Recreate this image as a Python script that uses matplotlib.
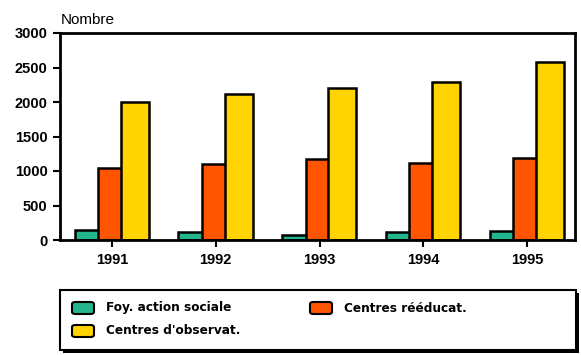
import matplotlib.pyplot as plt
from matplotlib.patches import Rectangle, FancyBboxPatch
import numpy as np

years = ["1991", "1992", "1993", "1994", "1995"]
foyers = [140, 110, 70, 110, 130]
reeducat = [1040, 1100, 1170, 1110, 1185]
observat = [2000, 2115, 2200, 2285, 2580]
labels = ["Foy. action sociale", "Centres rééducat.", "Centres d'observat."]
colors = ["#23b58d", "#ff5500", "#ffd400"]

plt.rcParams['font.family'] = ['Liberation Sans', 'DejaVu Sans']

fig = plt.figure(figsize=(5.81, 3.55), dpi=100)
ax = fig.add_axes([60/581, 1-240/355, 515/581, 207/355])

x = np.arange(len(years))
w = 0.27
series = [foyers, reeducat, observat]
offsets = [-0.225, 0.0, 0.22]
for vals, off, c in zip(series, offsets, colors):
    ax.bar(x + off, vals, w, color=c, edgecolor="black", linewidth=1.8, zorder=2)

ax.set_xlim(-0.5, 4.46)
ax.set_ylim(0, 3000)
ax.set_yticks(range(0, 3001, 500))
ax.set_xticks(x)
ax.set_xticklabels(years)
for s in ax.spines.values():
    s.set_linewidth(2)
ax.tick_params(axis="y", length=5, width=1.5, labelsize=10.5, pad=4)
ax.tick_params(axis="x", length=5, width=1.5, labelsize=10.5, pad=4)
for t in ax.get_xticklabels() + ax.get_yticklabels():
    t.set_fontweight("bold")

fig.text(61/581, 1-20/355, "Nombre", fontsize=11, va="center", ha="left")

# legend box with shadow
bx, by, bw, bh = 60/581, 1-350/355, 516/581, 60/355
fig.patches.append(Rectangle((bx + 3/581, by - 3/355), bw, bh, transform=fig.transFigure,
                             facecolor="black", edgecolor="none", zorder=1))
fig.patches.append(Rectangle((bx, by), bw, bh, transform=fig.transFigure,
                             facecolor="white", edgecolor="black", linewidth=1.5, zorder=2))

entries = [(72, 308), (310, 308), (72, 331)]
for (ex, ey), lab, c in zip(entries, labels, colors):
    fig.patches.append(FancyBboxPatch((ex/581, 1-(ey+6)/355), 22/581, 12/355,
                                      boxstyle="round,pad=0,rounding_size=0.006",
                                      transform=fig.transFigure, facecolor=c,
                                      edgecolor="black", linewidth=1.5, zorder=3))
    fig.text((ex+34)/581, 1-ey/355, lab, fontsize=8.7, fontweight="bold",
             family="DejaVu Sans", va="center", ha="left", zorder=4)

fig.savefig("out.png", dpi=100)
